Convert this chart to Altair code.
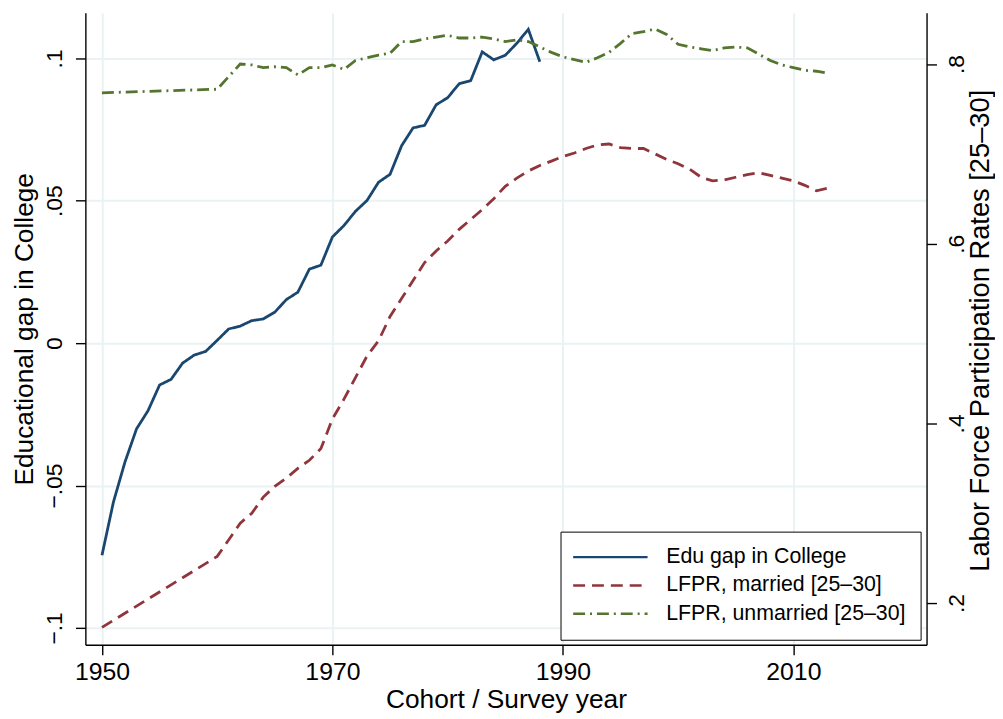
import altair as alt
import pandas as pd

# ---------------- data ----------------
edu_years = [1950, 1951, 1952, 1953, 1954, 1955, 1956, 1957, 1958, 1959,
             1960, 1961, 1962, 1963, 1964, 1965, 1966, 1967, 1968, 1969,
             1970, 1971, 1972, 1973, 1974, 1975, 1976, 1977, 1978, 1979,
             1980, 1981, 1982, 1983, 1984, 1985, 1986, 1987, 1988]
edu_gap = [-0.0745, -0.0557, -0.0417, -0.0301, -0.0237, -0.0147, -0.0127, -0.0070, -0.0042, -0.0029,
           0.0010, 0.0050, 0.0060, 0.0079, 0.0085, 0.0109, 0.0153, 0.0179, 0.0260, 0.0274,
           0.0373, 0.0413, 0.0463, 0.0501, 0.0565, 0.0593, 0.0693, 0.0756, 0.0765, 0.0837,
           0.0862, 0.0911, 0.0922, 0.1023, 0.0995, 0.1011, 0.1053, 0.1102, 0.0988]

lfpr_years = [1950, 1960, 1962, 1963, 1964, 1965, 1966, 1967, 1968, 1969,
              1970, 1971, 1972, 1973, 1974, 1975, 1976, 1977, 1978, 1979,
              1980, 1981, 1982, 1983, 1984, 1985, 1986, 1987, 1988, 1989,
              1990, 1991, 1992, 1993, 1994, 1995, 1996, 1997, 1998, 1999,
              2000, 2001, 2002, 2003, 2004, 2005, 2006, 2007, 2008, 2009,
              2010, 2011, 2012, 2013]
lfpr_married = [0.173, 0.252, 0.289, 0.300, 0.318, 0.330, 0.339, 0.350, 0.359, 0.372,
                0.405, 0.427, 0.451, 0.475, 0.492, 0.519, 0.539, 0.559, 0.579, 0.592,
                0.603, 0.616, 0.627, 0.638, 0.650, 0.664, 0.673, 0.681, 0.687, 0.692,
                0.697, 0.701, 0.706, 0.710, 0.711, 0.707, 0.706, 0.706, 0.700, 0.694,
                0.689, 0.683, 0.674, 0.670, 0.671, 0.674, 0.677, 0.679, 0.676, 0.673,
                0.670, 0.665, 0.659, 0.662]
lfpr_unmarried = [0.768, 0.772, 0.800, 0.799, 0.796, 0.797, 0.796, 0.788, 0.796, 0.796,
                  0.799, 0.794, 0.804, 0.807, 0.810, 0.812, 0.825, 0.825, 0.828, 0.830,
                  0.832, 0.829, 0.829, 0.830, 0.828, 0.825, 0.827, 0.825, 0.819, 0.813,
                  0.808, 0.805, 0.802, 0.807, 0.813, 0.823, 0.834, 0.836, 0.839, 0.833,
                  0.822, 0.819, 0.817, 0.815, 0.818, 0.819, 0.818, 0.811, 0.804, 0.799,
                  0.796, 0.793, 0.792, 0.790]

series_names = ["Edu gap in College", "LFPR, married [25\u201330]", "LFPR, unmarried [25\u201330]"]
series_colors = ["#1a476f", "#90353b", "#55752f"]
series_dashes = [[1, 0], [12, 7], [12, 5, 2, 5]]

x_ticks = [1950, 1970, 1990, 2010]
left_ticks = [-0.1, -0.05, 0, 0.05, 0.1]
right_ticks = [0.2, 0.4, 0.6, 0.8]

# ---------------- table ----------------
rows = []
for y, v in zip(edu_years, edu_gap):
    rows.append({"year": y, "value": v, "series": series_names[0]})
for y, v in zip(lfpr_years, lfpr_married):
    rows.append({"year": y, "value": v, "series": series_names[1]})
for y, v in zip(lfpr_years, lfpr_unmarried):
    rows.append({"year": y, "value": v, "series": series_names[2]})
df = pd.DataFrame(rows)

FONT = "Liberation Sans"
GRID = "#eaf2f3"
stata_fmt = "replace(format(datum.value, '~g'), '0.', '.')"
XTICK_FS = 25
YTICK_FS = 23
TITLE_FS = 26.5

x_enc = alt.X(
    "year:Q",
    scale=alt.Scale(domain=[1948.56, 2021.56], nice=False, zero=False),
    axis=alt.Axis(
        values=x_ticks, format="d", title="Cohort / Survey year",
        grid=True, gridColor=GRID, gridWidth=2,
        tickSize=10, tickColor="black", tickWidth=1.4,
        domainColor="black", domainWidth=1.4,
        labelFontSize=XTICK_FS, labelPadding=5, labelBaseline="top", labelFlush=False,
        titleFontSize=TITLE_FS, titleY=63, titleX=424, titleBaseline="alphabetic",
    ),
)

legend = alt.Legend(
    title=None, orient="none", legendX=479, legendY=523, direction="vertical",
    strokeColor="black", fillColor="white", padding=15,
    symbolType="M-4.1667,0H4.1667", symbolSize=324, symbolStrokeWidth=2.4,
    symbolOffset=24.5, labelOffset=45.5, rowPadding=5.5,
    labelFontSize=21.5, labelFont=FONT, labelColor="black", labelLimit=400,
)

color_enc = alt.Color("series:N", scale=alt.Scale(domain=series_names, range=series_colors), legend=legend)
dash_enc = alt.StrokeDash("series:N", scale=alt.Scale(domain=series_names, range=series_dashes), legend=legend)

left = alt.Chart(df).transform_filter(
    alt.datum.series == series_names[0]
).mark_line(strokeWidth=2.8).encode(
    x=x_enc,
    y=alt.Y(
        "value:Q",
        scale=alt.Scale(domain=[-0.1059, 0.116], nice=False, zero=False),
        axis=alt.Axis(
            orient="left", values=left_ticks, labelExpr=stata_fmt,
            title="Educational gap in College",
            grid=True, gridColor=GRID, gridWidth=2,
            tickSize=10, tickColor="black", tickWidth=1.4,
            domainColor="black", domainWidth=1.4,
            labelAngle=270, labelAlign="center", labelBaseline="alphabetic",
            labelPadding=14, labelFontSize=YTICK_FS,
            titleFontSize=TITLE_FS, titleAngle=270, titleX=-53.5, titleY=318.5,
            titleAlign="center", titleBaseline="alphabetic",
        ),
    ),
    color=color_enc,
    strokeDash=dash_enc,
)

right = alt.Chart(df).transform_filter(
    alt.datum.series != series_names[0]
).mark_line(strokeWidth=2.8).encode(
    x=x_enc,
    y=alt.Y(
        "value:Q",
        scale=alt.Scale(domain=[0.1537, 0.857], nice=False, zero=False),
        axis=alt.Axis(
            orient="right", values=right_ticks, labelExpr=stata_fmt,
            title="Labor Force Participation Rates [25\u201330]",
            grid=False,
            tickSize=10, tickColor="black", tickWidth=1.4,
            domainColor="black", domainWidth=1.4,
            labelAngle=270, labelAlign="center", labelBaseline="top",
            labelPadding=9, labelFontSize=YTICK_FS,
            titleFontSize=27.5, titleAngle=270, titleX=62, titleY=320,
            titleAlign="center", titleBaseline="alphabetic",
        ),
    ),
    color=color_enc,
    strokeDash=dash_enc,
)

chart = alt.layer(left, right).resolve_scale(
    y="independent"
).properties(
    width=848, height=637,
    autosize=alt.AutoSizeParams(type="none"),
    padding={"left": 78, "top": 2, "right": 69, "bottom": 72},
    background="white",
).configure_view(
    stroke=None
).configure_axis(
    labelFont=FONT, titleFont=FONT, labelColor="black", titleColor="black",
    titleFontWeight="normal",
)

chart.save("out.html", embed_options={"renderer": "svg", "actions": False})
